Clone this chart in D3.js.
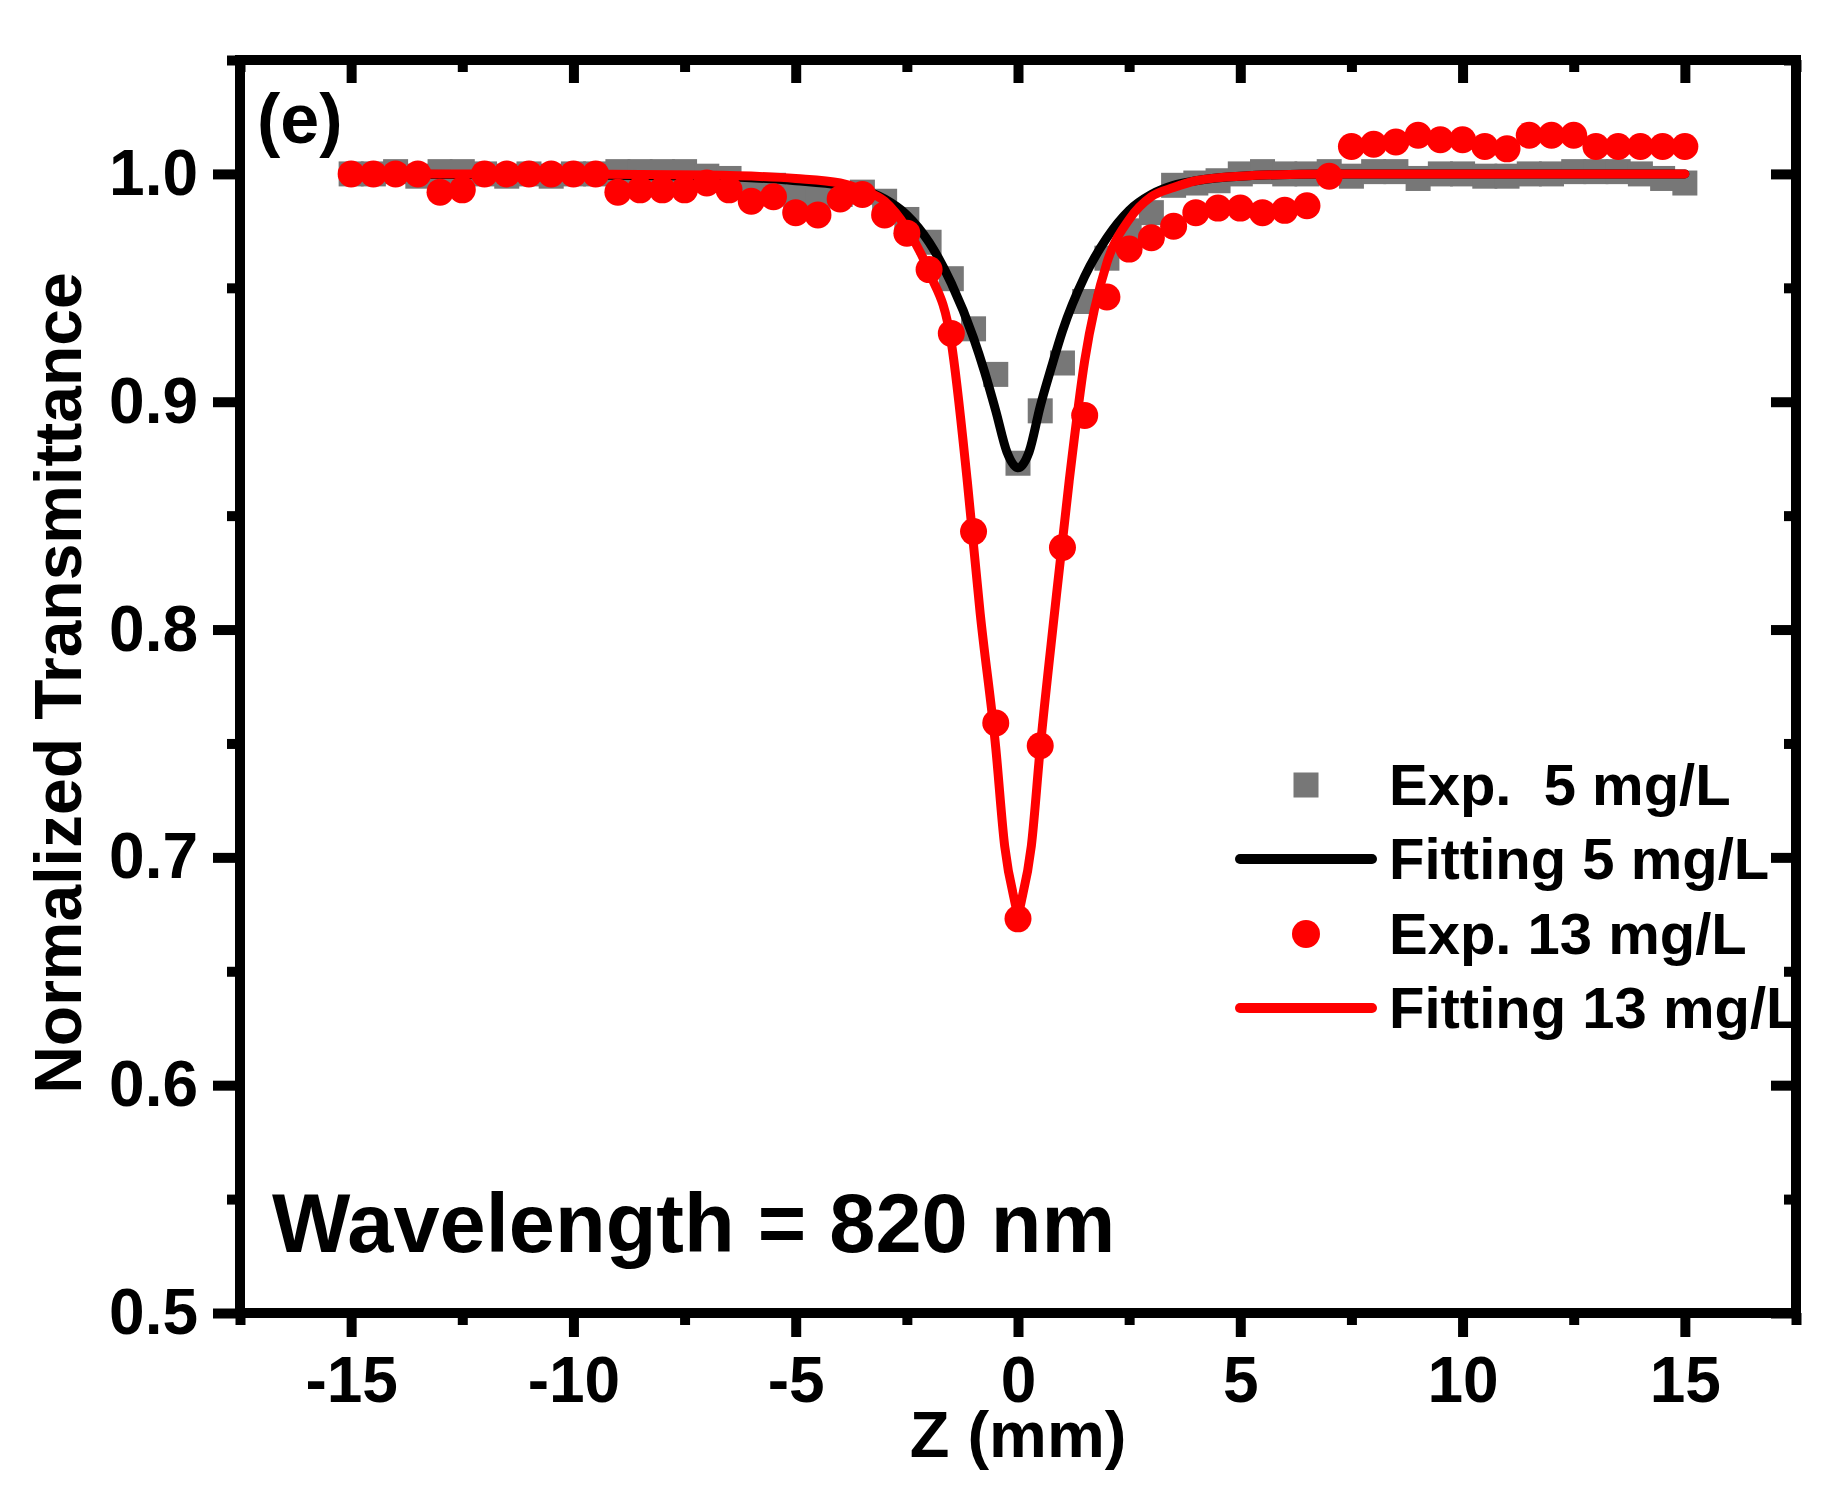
<!DOCTYPE html>
<html>
<head>
<meta charset="utf-8">
<script src="https://cdn.jsdelivr.net/npm/d3@7"></script>
<style>
  html, body { margin: 0; padding: 0; background: #fff; }
  svg { display: block; font-family: "Liberation Sans", Arial, sans-serif; font-weight: bold; }
</style>
</head>
<body>
<svg id="chart" width="1844" height="1488"></svg>
<script>
// positions z (mm), same grid for both measured series
const zExp = d3.range(-15, 15.01, 0.5);

// Exp. 5 mg/L (grey squares)
const exp5 = [
  1.000, 1.000, 1.001, 0.999, 1.001, 1.001, 1.000, 0.999, 1.000, 0.999,
  1.000, 1.000, 1.001, 1.001, 1.001, 1.001, 0.999, 0.998, 0.994, 0.995,
  0.990, 0.990, 0.991, 0.992, 0.988, 0.980, 0.970, 0.954, 0.932, 0.912,
  0.873, 0.896, 0.917, 0.944, 0.963, 0.975, 0.983, 0.995, 0.996, 0.997,
  1.000, 1.001, 1.000, 1.000, 1.001, 0.999, 1.001, 1.001, 0.998, 1.000,
  1.000, 0.999, 0.999, 1.000, 1.000, 1.001, 1.001, 1.001, 1.000, 0.998,
  0.996
];

// Exp. 13 mg/L (red circles)
const exp13 = [
  1.000, 1.000, 1.000, 1.000, 0.992, 0.993, 1.000, 1.000, 1.000, 1.000,
  1.000, 1.000, 0.992, 0.993, 0.993, 0.993, 0.996, 0.993, 0.988, 0.990,
  0.983, 0.982, 0.989, 0.991, 0.982, 0.974, 0.958, 0.930, 0.843, 0.759,
  0.673, 0.749, 0.836, 0.894, 0.946, 0.967, 0.972, 0.977, 0.983, 0.985,
  0.985, 0.983, 0.984, 0.986, 0.999, 1.012, 1.013, 1.014, 1.017, 1.015,
  1.015, 1.012, 1.011, 1.017, 1.017, 1.017, 1.012, 1.012, 1.012, 1.012,
  1.012
];

// fitted curves
const fit5Z = [-15, -10, -7, -5, -4, -3.5, -3, -2.5, -2, -1.5, -1, -0.75, -0.5, -0.25, 0, 0.25, 0.5, 0.75, 1, 1.5, 2, 2.5, 3, 3.5, 4, 5, 7, 10, 15];
const fit5T = [1.000, 0.9995, 0.999, 0.997, 0.995, 0.993, 0.989, 0.982, 0.970, 0.952, 0.928, 0.913, 0.896, 0.878, 0.871, 0.878, 0.898, 0.915, 0.931, 0.955, 0.972, 0.984, 0.991, 0.995, 0.997, 0.999, 1.000, 1.000, 1.000];

const fit13Z = [-15, -10, -7, -5, -4, -3.5, -3, -2.5, -2, -1.5, -1.14, -0.85, -0.5, -0.3, -0.1, 0, 0.1, 0.3, 0.5, 0.82, 1.15, 1.5, 2, 2.5, 3, 3.5, 4, 5, 7, 10, 15];
const fit13T = [1.000, 1.000, 0.9995, 0.998, 0.996, 0.993, 0.988, 0.976, 0.957, 0.926, 0.865, 0.807, 0.748, 0.705, 0.683, 0.676, 0.683, 0.705, 0.748, 0.807, 0.865, 0.918, 0.961, 0.980, 0.990, 0.994, 0.997, 0.999, 1.000, 1.000, 1.000];

const xMajor = [-15, -10, -5, 0, 5, 10, 15];
const xMinor = [-17.5, -12.5, -7.5, -2.5, 2.5, 7.5, 12.5, 17.5];
const yMajor = [0.5, 0.6, 0.7, 0.8, 0.9, 1.0];
const yMinor = [0.55, 0.65, 0.75, 0.85, 0.95, 1.05];

const legendItems = [
  { label: "Exp.  5 mg/L", kind: "square", color: "#777777" },
  { label: "Fitting 5 mg/L", kind: "line", color: "#000000" },
  { label: "Exp. 13 mg/L", kind: "circle", color: "#ff0000" },
  { label: "Fitting 13 mg/L", kind: "line", color: "#ff0000" }
];

const svg = d3.select("#chart");

const x = d3.scaleLinear().domain([-17.5, 17.5]).range([240, 1796]);
const y = d3.scaleLinear().domain([0.5, 1.05]).range([1313, 60]);

const plot = svg.append("g");

// grey squares
plot.append("g")
  .selectAll("rect")
  .data(zExp.map((z, i) => ({ z, t: exp5[i] })))
  .enter().append("rect")
  .attr("x", d => x(d.z) - 12.5)
  .attr("y", d => y(d.t) - 12.5)
  .attr("width", 25)
  .attr("height", 25)
  .attr("fill", "#777777");

const line = d3.line()
  .x(d => x(d[0]))
  .y(d => y(d[1]))
  .curve(d3.curveMonotoneX);

// black fit
plot.append("path")
  .attr("d", line(fit5Z.map((z, i) => [z, fit5T[i]])))
  .attr("fill", "none")
  .attr("stroke", "#000")
  .attr("stroke-width", 9)
  .attr("stroke-linecap", "round")
  .attr("stroke-linejoin", "round");

// red circles
plot.append("g")
  .selectAll("circle")
  .data(zExp.map((z, i) => ({ z, t: exp13[i] })))
  .enter().append("circle")
  .attr("cx", d => x(d.z))
  .attr("cy", d => y(d.t))
  .attr("r", 13.5)
  .attr("fill", "#ff0000");

// red fit
plot.append("path")
  .attr("d", line(fit13Z.map((z, i) => [z, fit13T[i]])))
  .attr("fill", "none")
  .attr("stroke", "#ff0000")
  .attr("stroke-width", 9)
  .attr("stroke-linecap", "round")
  .attr("stroke-linejoin", "round");

// axes
function styleAxis(g) {
  g.select(".domain").remove();
  g.selectAll(".tick line").attr("stroke", "#000").attr("stroke-width", 10);
  g.selectAll(".tick text")
    .attr("fill", "#000")
    .style("font-size", "64px")
    .style("font-weight", "bold");
}

svg.append("g")
  .attr("transform", "translate(0,1313)")
  .call(d3.axisBottom(x).tickValues(xMajor).tickSize(24).tickPadding(20).tickFormat(d => String(d)))
  .call(styleAxis);
svg.append("g")
  .attr("transform", "translate(0,1313)")
  .call(d3.axisBottom(x).tickValues(xMinor).tickSize(12).tickFormat(""))
  .call(styleAxis);

svg.append("g")
  .attr("transform", "translate(240,0)")
  .call(d3.axisLeft(y).tickValues(yMajor).tickSize(27).tickPadding(15).tickFormat(d3.format(".1f")))
  .call(styleAxis);
svg.append("g")
  .attr("transform", "translate(240,0)")
  .call(d3.axisLeft(y).tickValues(yMinor).tickSize(13).tickFormat(""))
  .call(styleAxis);

// mirror ticks, pointing inward
svg.append("g")
  .attr("transform", "translate(0,60)")
  .call(d3.axisBottom(x).tickValues(xMajor).tickSize(23).tickFormat(""))
  .call(styleAxis);
svg.append("g")
  .attr("transform", "translate(0,60)")
  .call(d3.axisBottom(x).tickValues(xMinor).tickSize(12).tickFormat(""))
  .call(styleAxis);
svg.append("g")
  .attr("transform", "translate(1796,0)")
  .call(d3.axisLeft(y).tickValues(yMajor).tickSize(25).tickFormat(""))
  .call(styleAxis);
svg.append("g")
  .attr("transform", "translate(1796,0)")
  .call(d3.axisLeft(y).tickValues(yMinor).tickSize(12).tickFormat(""))
  .call(styleAxis);

// frame
svg.append("rect")
  .attr("x", 240).attr("y", 60)
  .attr("width", 1796 - 240).attr("height", 1313 - 60)
  .attr("fill", "none")
  .attr("stroke", "#000")
  .attr("stroke-width", 10);

// axis titles
svg.append("text")
  .attr("x", x(0)).attr("y", 1457)
  .attr("text-anchor", "middle")
  .style("font-size", "65px")
  .text("Z (mm)");

svg.append("text")
  .attr("transform", "translate(81,683) rotate(-90)")
  .attr("text-anchor", "middle")
  .style("font-size", "66px")
  .text("Normalized Transmittance");

// annotations
svg.append("text")
  .attr("x", 257).attr("y", 143)
  .style("font-size", "70px")
  .text("(e)");

svg.append("text")
  .attr("x", 272).attr("y", 1252)
  .style("font-size", "83px")
  .text("Wavelength = 820 nm");

// legend
const legend = svg.append("g").attr("transform", "translate(1236,0)");
const rowY = [785, 859, 934, 1008];
legendItems.forEach((it, i) => {
  const cy = rowY[i];
  if (it.kind === "square") {
    legend.append("rect")
      .attr("x", 70 - 12.5).attr("y", cy - 12.5)
      .attr("width", 25).attr("height", 25)
      .attr("fill", it.color);
  } else if (it.kind === "circle") {
    legend.append("circle")
      .attr("cx", 70).attr("cy", cy).attr("r", 14)
      .attr("fill", it.color);
  } else {
    legend.append("line")
      .attr("x1", 4).attr("x2", 136)
      .attr("y1", cy).attr("y2", cy)
      .attr("stroke", it.color)
      .attr("stroke-width", 10)
      .attr("stroke-linecap", "round");
  }
  legend.append("text")
    .attr("x", 153).attr("y", cy + 20)
    .style("font-size", "58px")
    .style("white-space", "pre")
    .text(it.label);
});
</script>
</body>
</html>
